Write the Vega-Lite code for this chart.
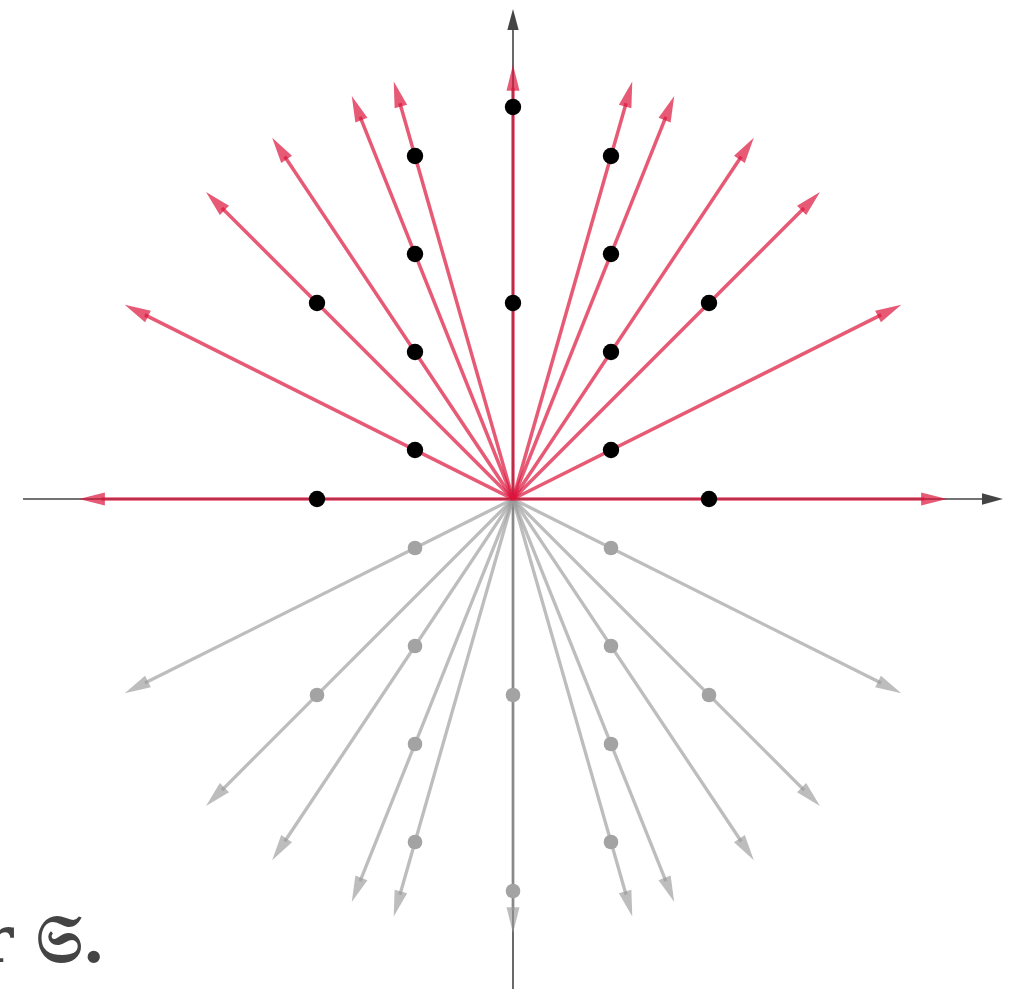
{
  "$schema": "https://vega.github.io/schema/vega-lite/v6.json",
  "width": 1022,
  "height": 993,
  "padding": 0,
  "autosize": {"type": "none"},
  "background": "white",
  "config": {"view": {"stroke": null}},
  "datasets": {
    "axes": [
      {"x": -5, "y": 0, "lx": 4.85, "ly": 0, "tx": 5, "ty": 0, "ang": 90},
      {"x": 0, "y": -5, "lx": 0, "ly": 4.85, "tx": 0, "ty": 5, "ang": 0}
    ],
    "rays": [
      {"grp": "upper", "lx": 4.2, "ly": 0, "tx": 4.43, "ty": 0, "ang": 90},
      {"grp": "upper", "lx": -4.2, "ly": 0, "tx": -4.43, "ty": 0, "ang": -90},
      {"grp": "upper", "lx": 0, "ly": 4.2, "tx": 0, "ty": 4.43, "ang": 0},
      {"grp": "upper", "lx": 3.75659, "ly": 1.8783, "tx": 3.96231, "ty": 1.98116, "ang": 63.435},
      {"grp": "upper", "lx": -3.75659, "ly": 1.8783, "tx": -3.96231, "ty": 1.98116, "ang": -63.435},
      {"grp": "upper", "lx": 2.96985, "ly": 2.96985, "tx": 3.13248, "ty": 3.13248, "ang": 45},
      {"grp": "upper", "lx": -2.96985, "ly": 2.96985, "tx": -3.13248, "ty": 3.13248, "ang": -45},
      {"grp": "upper", "lx": 2.32974, "ly": 3.49461, "tx": 2.45732, "ty": 3.68598, "ang": 33.69},
      {"grp": "upper", "lx": -2.32974, "ly": 3.49461, "tx": -2.45732, "ty": 3.68598, "ang": -33.69},
      {"grp": "upper", "lx": 1.55984, "ly": 3.8996, "tx": 1.64526, "ty": 4.11315, "ang": 21.801},
      {"grp": "upper", "lx": -1.55984, "ly": 3.8996, "tx": -1.64526, "ty": 4.11315, "ang": -21.801},
      {"grp": "upper", "lx": 1.15383, "ly": 4.0384, "tx": 1.21701, "ty": 4.25955, "ang": 15.945},
      {"grp": "upper", "lx": -1.15383, "ly": 4.0384, "tx": -1.21701, "ty": 4.25955, "ang": -15.945},
      {"grp": "lower", "lx": 0, "ly": -4.2, "tx": 0, "ty": -4.43, "ang": 180},
      {"grp": "lower", "lx": 3.75659, "ly": -1.8783, "tx": 3.96231, "ty": -1.98116, "ang": 116.565},
      {"grp": "lower", "lx": -3.75659, "ly": -1.8783, "tx": -3.96231, "ty": -1.98116, "ang": -116.565},
      {"grp": "lower", "lx": 2.96985, "ly": -2.96985, "tx": 3.13248, "ty": -3.13248, "ang": 135},
      {"grp": "lower", "lx": -2.96985, "ly": -2.96985, "tx": -3.13248, "ty": -3.13248, "ang": -135},
      {"grp": "lower", "lx": 2.32974, "ly": -3.49461, "tx": 2.45732, "ty": -3.68598, "ang": 146.31},
      {"grp": "lower", "lx": -2.32974, "ly": -3.49461, "tx": -2.45732, "ty": -3.68598, "ang": -146.31},
      {"grp": "lower", "lx": 1.55984, "ly": -3.8996, "tx": 1.64526, "ty": -4.11315, "ang": 158.199},
      {"grp": "lower", "lx": -1.55984, "ly": -3.8996, "tx": -1.64526, "ty": -4.11315, "ang": -158.199},
      {"grp": "lower", "lx": 1.15383, "ly": -4.0384, "tx": 1.21701, "ty": -4.25955, "ang": 164.055},
      {"grp": "lower", "lx": -1.15383, "ly": -4.0384, "tx": -1.21701, "ty": -4.25955, "ang": -164.055}
    ],
    "dots": [
      {"grp": "upper", "x": -2, "y": 0}, {"grp": "upper", "x": 2, "y": 0},
      {"grp": "upper", "x": -1, "y": 0.5}, {"grp": "upper", "x": 1, "y": 0.5},
      {"grp": "upper", "x": -1, "y": 1.5}, {"grp": "upper", "x": 1, "y": 1.5},
      {"grp": "upper", "x": -2, "y": 2}, {"grp": "upper", "x": 0, "y": 2}, {"grp": "upper", "x": 2, "y": 2},
      {"grp": "upper", "x": -1, "y": 2.5}, {"grp": "upper", "x": 1, "y": 2.5},
      {"grp": "upper", "x": -1, "y": 3.5}, {"grp": "upper", "x": 1, "y": 3.5},
      {"grp": "upper", "x": 0, "y": 4},
      {"grp": "lower", "x": -1, "y": -0.5}, {"grp": "lower", "x": 1, "y": -0.5},
      {"grp": "lower", "x": -1, "y": -1.5}, {"grp": "lower", "x": 1, "y": -1.5},
      {"grp": "lower", "x": -2, "y": -2}, {"grp": "lower", "x": 0, "y": -2}, {"grp": "lower", "x": 2, "y": -2},
      {"grp": "lower", "x": -1, "y": -2.5}, {"grp": "lower", "x": 1, "y": -2.5},
      {"grp": "lower", "x": -1, "y": -3.5}, {"grp": "lower", "x": 1, "y": -3.5},
      {"grp": "lower", "x": 0, "y": -4}
    ],
    "label": [{"x": -4.16, "y": -4.72, "text": "for 𝔖."}]
  },
  "layer": [
    {
      "data": {"name": "axes"},
      "mark": {"type": "rule", "color": "#444444", "strokeWidth": 1.6},
      "encoding": {
        "x": {"field": "x", "type": "quantitative", "scale": {"domain": [-5.2347, 5.1939], "nice": false, "zero": false}, "axis": null},
        "y": {"field": "y", "type": "quantitative", "scale": {"domain": [-5.0408, 5.0918], "nice": false, "zero": false}, "axis": null},
        "x2": {"field": "lx"},
        "y2": {"field": "ly"}
      }
    },
    {
      "data": {"name": "axes"},
      "mark": {"type": "point", "shape": "M0,0L-0.27,1L0.27,1Z", "filled": true, "color": "#444444", "opacity": 1, "size": 1764, "strokeWidth": 0},
      "encoding": {
        "x": {"field": "tx", "type": "quantitative", "scale": {"domain": [-5.2347, 5.1939], "nice": false, "zero": false}, "axis": null},
        "y": {"field": "ty", "type": "quantitative", "scale": {"domain": [-5.0408, 5.0918], "nice": false, "zero": false}, "axis": null},
        "angle": {"field": "ang", "type": "quantitative", "scale": null}
      }
    },
    {
      "data": {"name": "rays"},
      "transform": [{"filter": "datum.grp === 'lower'"}],
      "mark": {"type": "rule", "color": "#999999", "opacity": 0.65, "strokeWidth": 3.3},
      "encoding": {
        "x": {"field": "lx", "type": "quantitative", "scale": {"domain": [-5.2347, 5.1939], "nice": false, "zero": false}, "axis": null},
        "y": {"field": "ly", "type": "quantitative", "scale": {"domain": [-5.0408, 5.0918], "nice": false, "zero": false}, "axis": null},
        "x2": {"datum": 0},
        "y2": {"datum": 0}
      }
    },
    {
      "data": {"name": "rays"},
      "transform": [{"filter": "datum.grp === 'lower'"}],
      "mark": {"type": "point", "shape": "M0,0L-0.25,1L0.25,1Z", "filled": true, "color": "#999999", "opacity": 0.65, "size": 2704, "strokeWidth": 0},
      "encoding": {
        "x": {"field": "tx", "type": "quantitative", "scale": {"domain": [-5.2347, 5.1939], "nice": false, "zero": false}, "axis": null},
        "y": {"field": "ty", "type": "quantitative", "scale": {"domain": [-5.0408, 5.0918], "nice": false, "zero": false}, "axis": null},
        "angle": {"field": "ang", "type": "quantitative", "scale": null}
      }
    },
    {
      "data": {"name": "rays"},
      "transform": [{"filter": "datum.grp === 'upper'"}],
      "mark": {"type": "rule", "color": "#dc143c", "opacity": 0.7, "strokeWidth": 3.5},
      "encoding": {
        "x": {"field": "lx", "type": "quantitative", "scale": {"domain": [-5.2347, 5.1939], "nice": false, "zero": false}, "axis": null},
        "y": {"field": "ly", "type": "quantitative", "scale": {"domain": [-5.0408, 5.0918], "nice": false, "zero": false}, "axis": null},
        "x2": {"datum": 0},
        "y2": {"datum": 0}
      }
    },
    {
      "data": {"name": "rays"},
      "transform": [{"filter": "datum.grp === 'upper'"}],
      "mark": {"type": "point", "shape": "M0,0L-0.25,1L0.25,1Z", "filled": true, "color": "#dc143c", "opacity": 0.7, "size": 2704, "strokeWidth": 0},
      "encoding": {
        "x": {"field": "tx", "type": "quantitative", "scale": {"domain": [-5.2347, 5.1939], "nice": false, "zero": false}, "axis": null},
        "y": {"field": "ty", "type": "quantitative", "scale": {"domain": [-5.0408, 5.0918], "nice": false, "zero": false}, "axis": null},
        "angle": {"field": "ang", "type": "quantitative", "scale": null}
      }
    },
    {
      "data": {"name": "dots"},
      "transform": [{"filter": "datum.grp === 'lower'"}],
      "mark": {"type": "circle", "color": "#a3a3a3", "opacity": 1, "size": 215},
      "encoding": {
        "x": {"field": "x", "type": "quantitative", "scale": {"domain": [-5.2347, 5.1939], "nice": false, "zero": false}, "axis": null},
        "y": {"field": "y", "type": "quantitative", "scale": {"domain": [-5.0408, 5.0918], "nice": false, "zero": false}, "axis": null}
      }
    },
    {
      "data": {"name": "dots"},
      "transform": [{"filter": "datum.grp === 'upper'"}],
      "mark": {"type": "circle", "color": "#000000", "opacity": 1, "size": 270},
      "encoding": {
        "x": {"field": "x", "type": "quantitative", "scale": {"domain": [-5.2347, 5.1939], "nice": false, "zero": false}, "axis": null},
        "y": {"field": "y", "type": "quantitative", "scale": {"domain": [-5.0408, 5.0918], "nice": false, "zero": false}, "axis": null}
      }
    },
    {
      "data": {"name": "label"},
      "mark": {"type": "text", "align": "right", "baseline": "alphabetic", "font": "DejaVu Serif", "fontSize": 66, "fontWeight": "bold", "color": "#444444"},
      "encoding": {
        "x": {"field": "x", "type": "quantitative", "scale": {"domain": [-5.2347, 5.1939], "nice": false, "zero": false}, "axis": null},
        "y": {"field": "y", "type": "quantitative", "scale": {"domain": [-5.0408, 5.0918], "nice": false, "zero": false}, "axis": null},
        "text": {"field": "text"}
      }
    }
  ]
}
